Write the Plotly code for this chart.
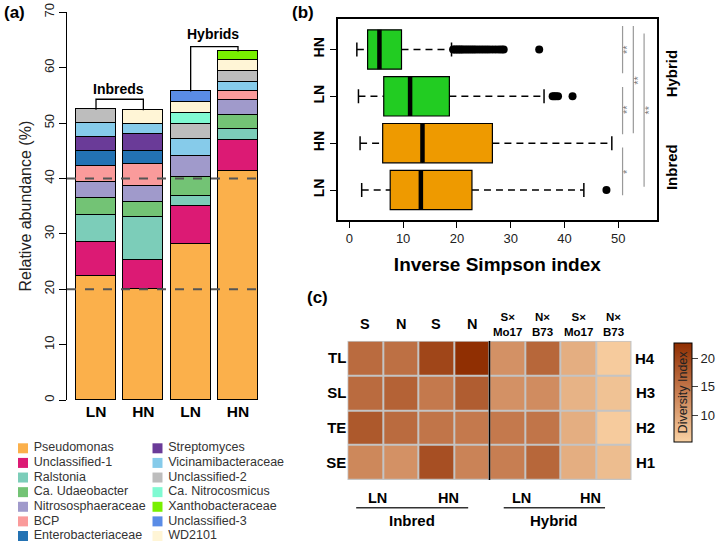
import plotly.graph_objects as go

FONT = "Liberation Sans, Arial, sans-serif"
W, H = 720, 548


def px_x(x):
    return x / W


def px_y(y):
    return 1 - y / H


# ---- (a) relative abundance, stacked bars ----
bar_labels = ["LN", "HN", "LN", "HN"]
taxa = [
    "Pseudomonas", "Unclassified-1", "Ralstonia", "Ca. Udaeobacter",
    "Nitrososphaeraceae", "BCP", "Enterobacteriaceae", "Streptomyces",
    "Vicinamibacteraceae", "Unclassified-2", "Ca. Nitrocosmicus", "WD2101",
    "Xanthobacteraceae", "Unclassified-3",
]
taxa_colors = [
    "#FBB04B", "#DC1A74", "#7CCDB9", "#73C375",
    "#A09ACB", "#FA9B9B", "#2372B3", "#6A3B98",
    "#86CBEA", "#BDBDBD", "#80FAD2", "#FFF5D6",
    "#78F000", "#5A8CE6",
]
inbred_ln = [22.3, 6.2, 4.8, 3.2, 2.8, 2.9, 2.7, 2.5, 2.5, 2.5, None, None, None, None]
inbred_hn = [20.0, 5.3, 7.7, 2.7, 2.9, 3.9, 2.4, 3.0, 1.8, None, None, 2.6, None, None]
hybrid_ln = [28.1, 6.9, 1.8, 3.4, 3.8, None, None, None, 3.0, 2.7, 2.0, 2.0, None, 2.0]
hybrid_hn = [41.3, 5.5, 2.0, 2.6, 2.7, 1.6, None, None, 1.6, 2.0, None, 2.0, 1.6, None]
legend_col1 = ["Pseudomonas", "Unclassified-1", "Ralstonia", "Ca. Udaeobacter",
               "Nitrososphaeraceae", "BCP", "Enterobacteriaceae"]
legend_col2 = ["Streptomyces", "Vicinamibacteraceae", "Unclassified-2",
               "Ca. Nitrocosmicus", "Xanthobacteraceae", "Unclassified-3", "WD2101"]

# ---- (b) inverse Simpson boxplots (bottom to top) ----
box_labels = ["LN", "HN", "LN", "HN"]
box_group = ["Inbred", "Inbred", "Hybrid", "Hybrid"]
box_lower = [2.3, 2.0, 1.7, 1.4]
box_q1 = [7.6, 6.2, 6.4, 3.4]
box_median = [13.3, 13.6, 11.3, 5.6]
box_q3 = [22.8, 26.6, 18.6, 9.7]
box_upper = [43.6, 48.8, 36.2, 19.0]
out_inbred_ln = [47.8]
out_inbred_hn = []
out_hybrid_ln = [37.8, 38.1, 38.4, 38.8, 41.5]
out_hybrid_hn = [19.3, 19.6, 19.9, 20.2, 20.5, 20.8, 21.1, 21.5, 21.9, 22.3,
                 22.7, 23.1, 23.5, 24.0, 24.5, 25.0, 25.5, 26.0, 26.6, 27.2,
                 27.8, 28.3, 28.7, 35.3]
# significance brackets: x, y from, y to, label, label position
sig_x = [50.8, 50.8, 50.8, 52.8, 54.8]
sig_y0 = [2.49, 1.19, -0.11, 1.21, 0.07]
sig_y1 = [3.50, 2.20, 0.91, 3.50, 3.34]
sig_text = ["**", "**", "*", "**", "**"]
sig_text_y = [2.99, 1.71, 0.39, 2.35, 1.71]

# ---- (c) diversity heatmap ----
heat_cols = ["S", "N", "S", "N", "S×<br>Mo17", "N×<br>B73", "S×<br>Mo17", "N×<br>B73"]
heat_rows = ["SE", "TE", "SL", "TL"]
heat_rows_right = ["H1", "H2", "H3", "H4"]
heat_tl = [16.0, 15.5, 20.0, 22.5, 12.0, 16.5, 9.0, 6.0]
heat_sl = [16.0, 17.0, 14.5, 17.5, 12.0, 12.5, 8.5, 7.0]
heat_te = [18.0, 16.0, 15.0, 14.5, 14.5, 15.0, 9.0, 6.0]
heat_se = [13.0, 12.0, 19.0, 13.5, 14.0, 16.5, 9.0, 7.5]

fig = go.Figure()

# stacked bars
bars = [inbred_ln, inbred_hn, hybrid_ln, hybrid_hn]
for i, (name, color) in enumerate(zip(taxa, taxa_colors)):
    fig.add_trace(go.Bar(
        x=[1, 2, 3, 4], y=[b[i] for b in bars], name=name,
        marker=dict(color=color, line=dict(color="black", width=1.2)),
        width=0.845, xaxis="x", yaxis="y",
    ))

totals = [sum(v for v in b if v is not None) for b in bars]
inbred_top = max(totals[0], totals[1]) + 1.9
hybrid_top = max(totals[2], totals[3]) + 0.9
shapes = []
for y0 in (20, 40):
    shapes.append(dict(type="line", xref="x", yref="y", x0=0.387, x1=4.5, y0=y0, y1=y0,
                       line=dict(color="#555555", width=2, dash="dash"), layer="above"))
for (a, b, top) in ((1, 2, inbred_top), (3, 4, hybrid_top)):
    shapes.append(dict(
        type="path", xref="x", yref="y",
        path=f"M {a},{totals[a-1]} L {a},{top} L {b},{top} L {b},{totals[b-1]}",
        line=dict(color="black", width=1.3),
    ))

# legend for (a), drawn with a marker trace on a hidden axis
leg_x = [0] * len(legend_col1) + [1] * len(legend_col2)
leg_y = list(range(len(legend_col1))) + list(range(len(legend_col2)))
leg_names = legend_col1 + legend_col2
leg_colors = [taxa_colors[taxa.index(n)] for n in leg_names]
fig.add_trace(go.Scatter(
    x=leg_x, y=leg_y, mode="markers+text", text=[" " + n for n in leg_names],
    textposition="middle right", textfont=dict(size=12.5, color="#333333", family=FONT),
    marker=dict(symbol="square", size=10, color=leg_colors),
    xaxis="x4", yaxis="y4", cliponaxis=False, hoverinfo="skip",
))

# boxplots
for grp, color in (("Inbred", "#EE9A00"), ("Hybrid", "#22CC22")):
    idx = [i for i, g in enumerate(box_group) if g == grp]
    fig.add_trace(go.Box(
        y=idx, q1=[box_q1[i] for i in idx], median=[box_median[i] for i in idx],
        q3=[box_q3[i] for i in idx], lowerfence=[box_q1[i] for i in idx],
        upperfence=[box_q3[i] for i in idx], orientation="h",
        fillcolor=color, line=dict(color="black", width=1.2), width=0.84,
        boxpoints=False, xaxis="x2", yaxis="y2",
    ))

wx, wy, cx, cy, mx, my = [], [], [], [], [], []
for i in range(len(box_labels)):
    wx += [box_lower[i], box_q1[i], None, box_q3[i], box_upper[i], None]
    wy += [i, i, None, i, i, None]
    for v in (box_lower[i], box_upper[i]):
        cx += [v, v, None]
        cy += [i - 0.15, i + 0.15, None]
    mx += [box_median[i], box_median[i], None]
    my += [i - 0.42, i + 0.42, None]
fig.add_trace(go.Scatter(x=wx, y=wy, mode="lines", xaxis="x2", yaxis="y2",
                         line=dict(color="black", width=1.5, dash="7px,5px")))
fig.add_trace(go.Scatter(x=cx, y=cy, mode="lines", xaxis="x2", yaxis="y2",
                         line=dict(color="black", width=1.5)))
fig.add_trace(go.Scatter(x=mx, y=my, mode="lines", xaxis="x2", yaxis="y2",
                         line=dict(color="black", width=4.5)))
outs = [out_inbred_ln, out_inbred_hn, out_hybrid_ln, out_hybrid_hn]
ox = [v for o in outs for v in o]
oy = [i for i, o in enumerate(outs) for _ in o]
fig.add_trace(go.Scatter(x=ox, y=oy, mode="markers", xaxis="x2", yaxis="y2",
                         marker=dict(color="black", size=8), cliponaxis=False))


def note(text, x, y, size, color="black", xref="paper", yref="paper", angle=0):
    return dict(xref=xref, yref=yref, x=x, y=y, text=text, textangle=angle,
                showarrow=False, xanchor="center", yanchor="middle",
                font=dict(size=size, color=color, family=FONT))


annotations = []
for x, y0, y1, t, ty in zip(sig_x, sig_y0, sig_y1, sig_text, sig_text_y):
    shapes.append(dict(type="line", xref="x2", yref="y2", x0=x, x1=x, y0=y0, y1=y1,
                       line=dict(color="#999999", width=1.2)))
    annotations.append(note(t, x + 0.85, ty, 11, "#7A7A7A", "x2", "y2", -90))
for grp, y in (("Hybrid", 2.49), ("Inbred", 0.49)):
    annotations.append(note(f"<b>{grp}</b>", px_x(671), y, 15, yref="y2", angle=-90))

# heatmap
shapes.append(dict(type="rect", xref="x3", yref="y3", x0=-0.5, x1=7.5, y0=-0.5, y1=3.5,
                   fillcolor="#C4C4C4", line=dict(width=0), layer="below"))
fig.add_trace(go.Heatmap(
    x=list(range(8)), y=list(range(4)), z=[heat_se, heat_te, heat_sl, heat_tl],
    zmin=5.3, zmax=22.7, xgap=2, ygap=2, xaxis="x3", yaxis="y3",
    colorscale=[[0, "#FAD2A4"], [0.5, "#C77E52"], [1, "#8F2D00"]],
    colorbar=dict(
        x=px_x(674), xanchor="left", xpad=0, y=px_y(392.4), yanchor="middle", ypad=0,
        len=98.7 / H, lenmode="fraction", thickness=17.7, thicknessmode="pixels",
        outlinewidth=1, outlinecolor="black", ticks="outside", ticklen=6,
        tickvals=[10, 15, 20], tickfont=dict(size=13, color="#222222", family=FONT),
    ),
))
shapes.append(dict(type="line", xref="x3", yref="y3", x0=3.5, x1=3.5, y0=-0.5, y1=3.5,
                   line=dict(color="black", width=1.5)))
for a in (0, 2, 4, 6):
    shapes.append(dict(type="line", xref="x3", yref="y3", x0=a - 0.45, x1=a + 1.45,
                       y0=-0.55, y1=-0.55, line=dict(color="#666666", width=2)))
for i, t in enumerate(heat_cols):
    small = "<br>" in t
    annotations.append(note(f"<b>{t}</b>", i, px_y(324), 11.5 if small else 14.5, xref="x3"))
for i, t in enumerate(heat_rows_right):
    annotations.append(note(f"<b>{t}</b>", px_x(645), i, 15, yref="y3"))
for t, x in zip(["LN", "HN", "LN", "HN"], [0.35, 2.35, 4.4, 6.35]):
    annotations.append(note(f"<b>{t}</b>", x, px_y(498), 14.5, xref="x3"))
for t, x0, x1 in (("Inbred", -0.25, 2.9), ("Hybrid", 3.9, 6.75)):
    shapes.append(dict(type="line", xref="x3", yref="paper", x0=x0, x1=x1,
                       y0=px_y(507.7), y1=px_y(507.7), line=dict(color="#333333", width=1.5)))
    annotations.append(note(f"<b>{t}</b>", (x0 + x1) / 2, px_y(520), 15, xref="x3"))
annotations.append(note("Diversity Index", px_x(683), px_y(392.4), 12.5, "#222222", angle=-90))

# bracket labels and panel tags
annotations.append(note("<b>Inbreds</b>", 1.47, inbred_top + 1.9, 14, xref="x", yref="y"))
annotations.append(note("<b>Hybrids</b>", 3.47, hybrid_top + 2.3, 14, xref="x", yref="y"))
for t, x, y in (("(a)", 14, 13), ("(b)", 303, 13), ("(c)", 317, 297)):
    annotations.append(note(f"<b>{t}</b>", px_x(x), px_y(y), 17))

axis_font = dict(size=13, color="#222222", family=FONT)
fig.update_layout(
    width=W, height=H, margin=dict(l=0, r=0, t=0, b=0, autoexpand=False),
    paper_bgcolor="white", plot_bgcolor="white", showlegend=False,
    barmode="stack", bargap=0, boxmode="overlay",
    font=dict(family=FONT, color="#222222"),
    shapes=shapes, annotations=annotations,
    xaxis=dict(domain=[px_x(67), px_x(262)], range=[0.387, 4.507], tickvals=[1, 2, 3, 4],
               ticktext=[f"<b>{t}</b>" for t in bar_labels], showline=False, ticks="",
               showgrid=False, zeroline=False, anchor="y",
               tickfont=dict(size=15.5, color="black", family=FONT)),
    yaxis=dict(domain=[px_y(400), px_y(12.3)], range=[0, 70], tickvals=list(range(0, 71, 10)),
               showline=True, linecolor="black", linewidth=1.3, ticks="outside", ticklen=7,
               tickcolor="black", tickangle=-90, showgrid=False, zeroline=False, anchor="x",
               tickfont=axis_font,
               title=dict(text="Relative abundance (%)", standoff=6,
                          font=dict(size=16, color="#222222", family=FONT))),
    xaxis2=dict(domain=[px_x(337.7), px_x(657)], range=[-2.16, 57.2], tickvals=list(range(0, 51, 10)),
                showline=True, mirror=True, linecolor="black", linewidth=1.5, ticks="outside",
                ticklen=6, tickcolor="black", showgrid=False, zeroline=False, anchor="y2",
                tickfont=axis_font,
                title=dict(text="<b>Inverse Simpson index</b>", standoff=12,
                           font=dict(size=19, color="black", family=FONT))),
    yaxis2=dict(domain=[px_y(220), px_y(19)], range=[-0.64, 3.65], tickvals=[0, 1, 2, 3],
                ticktext=[f"<b>{t}</b>" for t in box_labels], tickangle=-90,
                showline=True, mirror=True, linecolor="black", linewidth=1.5, ticks="outside",
                ticklen=6, tickcolor="black", showgrid=False, zeroline=False, anchor="x2",
                tickfont=dict(size=14, color="black", family=FONT)),
    xaxis3=dict(domain=[px_x(347.3), px_x(631.7)], range=[-0.5, 7.5], showticklabels=False,
                ticks="", showgrid=False, zeroline=False, showline=False, anchor="y3"),
    yaxis3=dict(domain=[px_y(480), px_y(340.7)], range=[-0.5, 3.5], tickvals=[0, 1, 2, 3],
                ticktext=[f"<b>{t}</b>" for t in heat_rows], ticks="", showgrid=False,
                zeroline=False, showline=False, anchor="x3",
                tickfont=dict(size=15, color="black", family=FONT)),
    xaxis4=dict(domain=[px_x(23), px_x(157.5)], range=[0, 1], visible=False, anchor="y4"),
    yaxis4=dict(domain=[px_y(536), px_y(448.3)], range=[6, 0], visible=False, anchor="x4"),
)

# the page body has a default 8px margin; drop it so the figure fills the window
fig.write_html("out.html", config={"displayModeBar": False},
               post_script="document.body.style.margin='0';")
